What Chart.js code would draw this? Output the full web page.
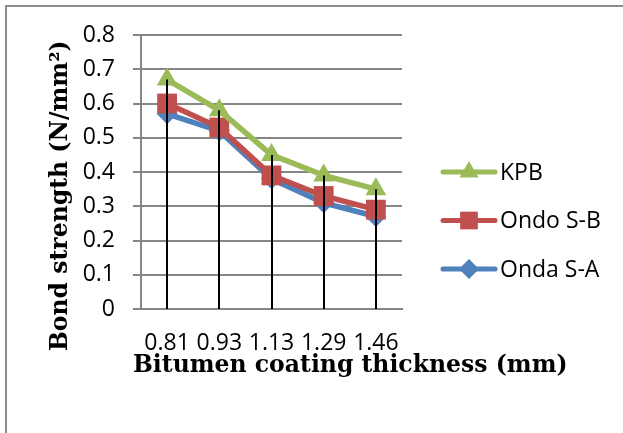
<!DOCTYPE html>
<html>
<head>
<meta charset="utf-8">
<script src="https://cdn.jsdelivr.net/npm/chart.js@4/dist/chart.umd.min.js"></script>
<style>
  html, body { margin: 0; padding: 0; background: #ffffff; }
  #wrap { width: 623px; height: 433px; }
</style>
</head>
<body>
<div id="wrap"><canvas id="c" width="623" height="433"></canvas></div>
<script>
// Bond strength against bitumen coating thickness
const thickness = ['0.81', '0.93', '1.13', '1.29', '1.46'];
const kpb      = [0.67, 0.58, 0.45, 0.39, 0.35];
const ondoSB   = [0.60, 0.53, 0.39, 0.33, 0.29];
const ondaSA   = [0.57, 0.52, 0.38, 0.31, 0.27];
const yTickLabels = ['0', '0.1', '0.2', '0.3', '0.4', '0.5', '0.6', '0.7', '0.8'];

const xTitle = 'Bitumen coating thickness (mm)';
const yTitle = 'Bond strength (N/mm²)';

const GRID = '#868686';
const LABEL_FONT = '"Open Sans", sans-serif';
const LABEL_SIZE = 23;
const TITLE_FONT = 'bold 23.5px "DejaVu Serif", serif';

// frame, axis titles, drop lines and the side legend
const decorations = {
  id: 'decorations',
  beforeDraw(chart) {
    const ctx = chart.ctx;
    ctx.save();
    ctx.fillStyle = '#ffffff';
    ctx.fillRect(0, 0, chart.width, chart.height);
    ctx.strokeStyle = '#8c8c8c';
    ctx.lineWidth = 2;
    ctx.beginPath();
    ctx.moveTo(6, chart.height);
    ctx.lineTo(6, 6);
    ctx.lineTo(chart.width, 6);
    ctx.stroke();
    ctx.restore();
  },
  afterDatasetsDraw(chart) {
    const ctx = chart.ctx;
    const xs = chart.scales.x, ys = chart.scales.y;
    // drop lines from the highest series down to the axis
    ctx.save();
    ctx.strokeStyle = '#000000';
    ctx.lineWidth = 2;
    thickness.forEach((_, i) => {
      const top = Math.max(...chart.data.datasets.map(d => d.data[i]));
      const px = Math.round(xs.getPixelForValue(i));
      ctx.beginPath();
      ctx.moveTo(px, ys.getPixelForValue(top));
      ctx.lineTo(px, ys.getPixelForValue(0));
      ctx.stroke();
    });
    ctx.restore();
  },
  afterDraw(chart) {
    const ctx = chart.ctx;
    const area = chart.chartArea;
    ctx.save();
    // axis titles
    ctx.fillStyle = '#000000';
    ctx.font = TITLE_FONT;
    ctx.textAlign = 'left';
    ctx.textBaseline = 'alphabetic';
    ctx.fillText(xTitle, area.left - 8, 372);
    ctx.save();
    ctx.translate(67, 351);
    ctx.rotate(-Math.PI / 2);
    ctx.fillText(yTitle, 0, 0);
    ctx.restore();

    // legend: line sample with marker, then the series name
    chart.data.datasets.forEach((ds, i) => {
      const y = 172 + i * 48.5;
      ctx.strokeStyle = ds.borderColor;
      ctx.lineWidth = 5;
      ctx.lineCap = 'round';
      ctx.beginPath();
      ctx.moveTo(443, y);
      ctx.lineTo(495, y);
      ctx.stroke();
      ctx.fillStyle = ds.pointBackgroundColor;
      ctx.strokeStyle = ds.pointBorderColor;
      Chart.helpers.drawPoint(ctx, {
        pointStyle: ds.pointStyle,
        radius: ds.legendRadius,
        rotation: 0,
        borderWidth: 0
      }, 469, y);
      ctx.fillStyle = '#000000';
      ctx.font = LABEL_SIZE + 'px ' + LABEL_FONT;
      ctx.textAlign = 'left';
      ctx.textBaseline = 'middle';
      ctx.fillText(ds.label, 500, y + 1);
    });
    ctx.restore();
  }
};

function series(label, data, color, style, radius, legendRadius) {
  return {
    label, data,
    borderColor: color,
    backgroundColor: color,
    borderWidth: 5.5,
    pointStyle: style,
    pointRadius: radius,
    pointHoverRadius: radius,
    pointBackgroundColor: color,
    pointBorderColor: color,
    pointBorderWidth: 0,
    legendRadius,
    tension: 0
  };
}

new Chart(document.getElementById('c'), {
  type: 'line',
  data: {
    labels: thickness,
    datasets: [
      series('KPB', kpb, '#9BBB59', 'triangle', 12, 11),
      series('Ondo S-B', ondoSB, '#C0504D', 'rect', 14, 12.5),
      series('Onda S-A', ondaSA, '#4F81BD', 'rectRot', 10.5, 10)
    ]
  },
  options: {
    responsive: false,
    animation: false,
    devicePixelRatio: 1,
    layout: { autoPadding: false, padding: { left: 0, top: 35, right: 221, bottom: 0 } },
    plugins: { legend: { display: false }, tooltip: { enabled: false } },
    scales: {
      x: {
        type: 'category',
        offset: true,
        grid: { display: false, drawTicks: false },
        border: { display: true, color: GRID, width: 2 },
        ticks: {
          color: '#000000',
          font: { family: LABEL_FONT, size: LABEL_SIZE },
          padding: 21,
          maxRotation: 0,
          autoSkip: false
        },
        afterFit(scale) { scale.height = 124; }
      },
      y: {
        min: 0,
        max: 0.8,
        grid: { color: GRID, lineWidth: 2, tickLength: 8, drawTicks: true },
        border: { display: true, color: GRID, width: 2 },
        ticks: {
          stepSize: 0.1,
          color: '#000000',
          font: { family: LABEL_FONT, size: LABEL_SIZE },
          padding: 18,
          callback: (v, i) => yTickLabels[i]
        },
        afterFit(scale) { scale.width = 141; }
      }
    }
  },
  plugins: [decorations]
});
</script>
</body>
</html>
